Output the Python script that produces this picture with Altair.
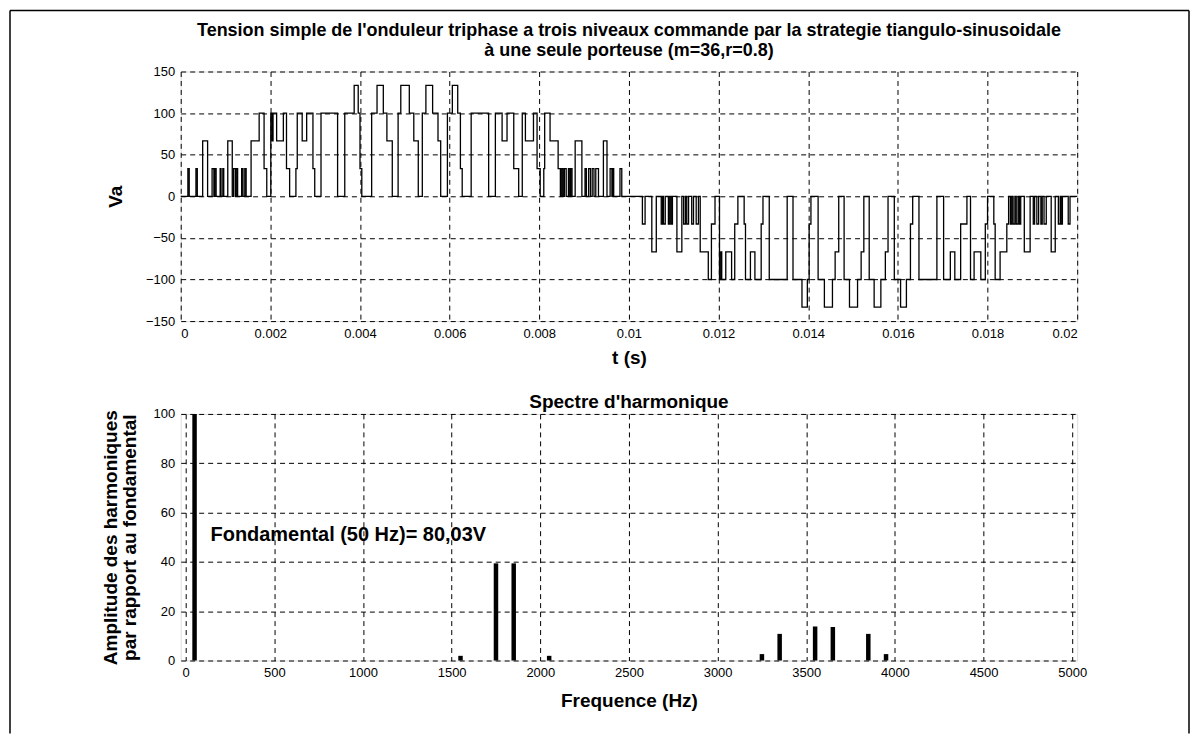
import altair as alt
import pandas as pd

FONT = "Liberation Sans"

# ---- top plot: phase voltage Va (step waveform), time in ms, level in volts ----
t_ms = [0.00, 0.16, 0.19, 0.34, 0.37, 0.49, 0.60, 0.70, 0.74, 0.76, 0.79, 0.88, 0.90, 0.94, 0.96,
        1.05, 1.15, 1.18, 1.22, 1.24, 1.27, 1.36, 1.39, 1.43, 1.46, 1.57, 1.75, 1.86, 1.92,
        2.01, 2.04, 2.06, 2.14, 2.29, 2.36, 2.43, 2.57, 2.60, 2.71, 2.81, 2.95, 2.99,
        3.13, 3.50, 3.66, 3.87, 3.96, 4.00, 4.04, 4.26, 4.38, 4.52, 4.60, 4.72, 4.85, 4.91,
        5.10, 5.20, 5.30, 5.39, 5.47, 5.62, 5.74, 5.80, 5.95, 6.06, 6.18, 6.24, 6.28, 6.48,
        6.87, 7.02, 7.17, 7.28, 7.43, 7.54, 7.62, 7.69, 7.87, 7.95, 8.02, 8.10, 8.12, 8.24,
        8.42, 8.47, 8.50, 8.53, 8.56, 8.60, 8.65, 8.68, 8.70, 8.73, 8.80, 8.95, 9.02, 9.05,
        9.10, 9.14, 9.18, 9.22, 9.26, 9.32, 9.43, 9.51, 9.58, 9.62, 9.64, 9.66, 9.80, 9.84,
        10.00, 10.30, 10.36, 10.51, 10.61, 10.72, 10.75, 10.77, 10.81, 10.88, 10.91, 10.94, 10.97,
        11.07, 11.18, 11.22, 11.26, 11.29, 11.33, 11.40, 11.44, 11.50, 11.55, 11.59, 11.77, 11.84,
        11.92, 12.02, 12.05, 12.07, 12.16, 12.29, 12.36, 12.43, 12.57, 12.60, 12.71, 12.81,
        12.95, 12.99, 13.13, 13.53, 13.66, 13.86, 13.98, 14.02, 14.06, 14.22, 14.36, 14.54,
        14.60, 14.68, 14.80, 14.92, 15.10, 15.18, 15.24, 15.36, 15.47, 15.62, 15.72, 15.78,
        15.92, 16.06, 16.19, 16.28, 16.33, 16.47, 16.87, 17.02, 17.17, 17.27, 17.40, 17.54,
        17.62, 17.70, 17.85, 17.95, 18.00, 18.14, 18.17, 18.28, 18.43, 18.47, 18.51, 18.54,
        18.57, 18.61, 18.64, 18.68, 18.71, 18.74, 18.82, 18.95, 19.02, 19.05, 19.10, 19.14,
        19.19, 19.22, 19.26, 19.31, 19.42, 19.51, 19.58, 19.62, 19.64, 19.67, 19.80, 19.84, 20.00]

va = [0, 33.3, 0, 33.3, 0, 66.7, 0, 33.3, 0, 33.3, 0, 33.3, 0, 33.3, 0,
      66.7, 0, 33.3, 0, 33.3, 0, 33.3, 0, 33.3, 0, 66.7, 100, 33.3, 0,
      100, 66.7, 100, 66.7, 100, 33.3, 0, 33.3, 100, 66.7, 100, 33.3, 0,
      100, 0, 100, 133.3, 100, 33.3, 0, 100, 133.3, 100, 66.7, 0, 100, 133.3,
      100, 66.7, 0, 100, 133.3, 100, 66.7, 0, 100, 133.3, 100, 33.3, 0, 100,
      0, 100, 66.7, 100, 33.3, 0, 100, 66.7, 100, 33.3, 0, 33.3, 100, 66.7,
      33.3, 0, 33.3, 0, 33.3, 0, 33.3, 0, 33.3, 0, 66.7, 0, 33.3, 0,
      33.3, 0, 33.3, 0, 33.3, 0, 66.7, 0, 33.3, 0, 33.3, 0, 33.3, 0,
      0, -33.3, 0, -66.7, 0, -33.3, 0, -33.3, 0, -33.3, 0, -33.3, 0,
      -66.7, 0, -33.3, 0, -33.3, 0, -33.3, 0, -33.3, 0, -66.7, -100, -33.3,
      0, -100, -66.7, -100, -66.7, -100, -33.3, 0, -33.3, -100, -66.7, -100,
      -33.3, 0, -100, 0, -100, -133.3, -100, -33.3, 0, -100, -133.3, -100,
      -66.7, 0, -100, -133.3, -100, -66.7, 0, -100, -133.3, -100, -66.7, 0,
      -100, -133.3, -100, -33.3, 0, -100, 0, -100, -66.7, -100, -33.3, 0,
      -100, -66.7, -100, -33.3, 0, -33.3, -100, -66.7, -33.3, 0, -33.3, 0,
      -33.3, 0, -33.3, 0, -33.3, 0, -66.7, 0, -33.3, 0, -33.3, 0,
      -33.3, 0, -33.3, 0, -66.7, 0, -33.3, 0, -33.3, 0, -33.3, 0, 0]

t_ticks = [0, 0.002, 0.004, 0.006, 0.008, 0.01, 0.012, 0.014, 0.016, 0.018, 0.02]
va_ticks = [-150, -100, -50, 0, 50, 100, 150]

# ---- bottom plot: harmonic spectrum (% of fundamental) ----
freq_hz = [50, 1550, 1750, 1850, 2050, 3250, 3350, 3550, 3650, 3850, 3950]
amp_pct = [100, 1.9, 39.4, 39.4, 1.9, 2.6, 10.8, 13.8, 13.6, 10.8, 2.6]
f_ticks = [0, 500, 1000, 1500, 2000, 2500, 3000, 3500, 4000, 4500, 5000]
a_ticks = [0, 20, 40, 60, 80, 100]

note_text = ["Fondamental (50 Hz)= 80,03V"]
note_f = [140]
note_a = [51]

spec_title = ["Spectre d'harmonique"]

wave = pd.DataFrame({"t": [v / 1000 for v in t_ms], "Va": va})
spec = pd.DataFrame({"f": freq_hz, "a": amp_pct})
note = pd.DataFrame({"f": note_f, "a": note_a, "txt": note_text})
frame = pd.DataFrame({"k": [0]})
stitle = pd.DataFrame({"txt": spec_title})

TFS = 18   # main title size
ATS = 19   # axis-title size
grid_kw = dict(grid=True, gridColor="black", gridDash=[5, 4], gridWidth=1, gridOpacity=1,
               ticks=False, domain=False, labelColor="black", labelFont=FONT,
               labelFontSize=13, labelPadding=6, titleFont=FONT, titleColor="black",
               titleFontWeight="bold", titleFontSize=ATS)

top = alt.Chart(wave).mark_line(interpolate="step-after", color="black", strokeWidth=1.3).encode(
    x=alt.X("t:Q", scale=alt.Scale(domain=[0, 0.02], nice=False, zero=False),
            axis=alt.Axis(values=t_ticks, format="~g", title="t (s)", titlePadding=8, **grid_kw)),
    y=alt.Y("Va:Q", scale=alt.Scale(domain=[-150, 150], nice=False),
            axis=alt.Axis(values=va_ticks, title="Va", titlePadding=20, **grid_kw)),
).properties(
    width=898, height=250,
    title=alt.TitleParams(
        ["Tension simple de l'onduleur triphase a trois niveaux commande par la strategie tiangulo-sinusoidale",
         "à une seule porteuse (m=36,r=0.8)"],
        font=FONT, fontSize=TFS, fontWeight="bold", color="black", anchor="middle",
        offset=6, lineHeight=20),
)

bars = alt.Chart(spec).mark_bar(color="black", size=4.5).encode(
    x=alt.X("f:Q", scale=alt.Scale(domain=[0, 5000], nice=False),
            axis=alt.Axis(values=f_ticks, format="d", title="Frequence (Hz)", titlePadding=12,
                          **grid_kw)),
    y=alt.Y("a:Q", scale=alt.Scale(domain=[0, 100], nice=False),
            axis=alt.Axis(values=a_ticks,
                          title=["Amplitude des harmoniques", "par rapport au fondamental"],
                          titlePadding=14, titleLineHeight=19, **grid_kw)),
)
txt = alt.Chart(note).mark_text(align="left", baseline="middle", font=FONT, fontSize=20,
                                fontWeight="bold", color="black").encode(
    x="f:Q", y="a:Q", text="txt:N")

# panel title of the spectrum, drawn as text just above the plot area
spec_ttl = alt.Chart(stitle).mark_text(align="center", baseline="middle", font=FONT,
                                       fontSize=ATS, fontWeight="bold", color="black").encode(
    x=alt.value(449), y=alt.value(-12), text="txt:N")

# figure border (top, left and right edges of the scanned figure frame)
border_top = alt.Chart(frame).mark_rule(color="black", strokeWidth=1.5).encode(
    x=alt.value(-171), x2=alt.value(1010), y=alt.value(-404))
border_left = alt.Chart(frame).mark_rule(color="black", strokeWidth=1.5).encode(
    x=alt.value(-171), y=alt.value(-404), y2=alt.value(320))
border_right = alt.Chart(frame).mark_rule(color="black", strokeWidth=1.5).encode(
    x=alt.value(1010), y=alt.value(-404), y2=alt.value(320))

bottom = alt.layer(bars, txt, spec_ttl, border_top, border_left, border_right).properties(
    width=898, height=247,
)

chart = alt.vconcat(top, bottom, spacing=93, bounds="flush").properties(
    padding={"left": 0, "top": 0, "right": 0, "bottom": 0}
).configure_view(stroke="black", strokeWidth=1.5).configure(background="white")

chart.save("out.html", embed_options={"renderer": "svg", "actions": False})
